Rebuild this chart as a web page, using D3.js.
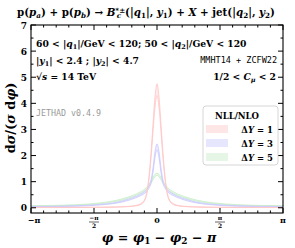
<!DOCTYPE html>
<html>
<head>
<meta charset="utf-8">
<script src="https://cdn.jsdelivr.net/npm/d3@7"></script>
<style>
  body { margin: 0; background: #fff; }
  text { font-family: "DejaVu Serif", "Liberation Serif", serif; }
  .mono { font-family: "DejaVu Sans Mono", "Liberation Mono", monospace; }
</style>
</head>
<body>
<div id="chart"></div>
<script>
// azimuthal distance grid (rad)
var phi = [-3.1416, -2.6, -2.0, -1.4, -1.0, -0.7, -0.5, -0.4, -0.3, -0.25, -0.2, -0.15, -0.1, -0.05,
           0, 0.05, 0.1, 0.15, 0.2, 0.25, 0.3, 0.4, 0.5, 0.7, 1.0, 1.4, 2.0, 2.6, 3.1416];

// Delta Y = 1 band
var dy1Lo = [0.008, 0.008, 0.01, 0.015, 0.025, 0.045, 0.08, 0.13, 0.30, 0.56, 1.08, 1.88, 2.90, 3.85,
             4.30, 3.85, 2.90, 1.88, 1.08, 0.56, 0.30, 0.13, 0.08, 0.045, 0.025, 0.015, 0.01, 0.008, 0.008];
var dy1Hi = [0.015, 0.015, 0.02, 0.025, 0.035, 0.055, 0.10, 0.16, 0.34, 0.63, 1.20, 2.08, 3.20, 4.25,
             4.75, 4.25, 3.20, 2.08, 1.20, 0.63, 0.34, 0.16, 0.10, 0.055, 0.035, 0.025, 0.02, 0.015, 0.015];
// Delta Y = 3 band
var dy3Lo = [0.04, 0.045, 0.06, 0.11, 0.18, 0.29, 0.40, 0.47, 0.56, 0.64, 0.75, 0.93, 1.35, 1.92,
             2.22, 1.92, 1.35, 0.93, 0.75, 0.64, 0.56, 0.47, 0.40, 0.29, 0.18, 0.11, 0.06, 0.045, 0.04];
var dy3Hi = [0.05, 0.055, 0.08, 0.13, 0.21, 0.34, 0.45, 0.53, 0.63, 0.71, 0.84, 1.05, 1.52, 2.15,
             2.45, 2.15, 1.52, 1.05, 0.84, 0.71, 0.63, 0.53, 0.45, 0.34, 0.21, 0.13, 0.08, 0.055, 0.05];
// Delta Y = 5 band
var dy5Lo = [0.06, 0.07, 0.10, 0.16, 0.25, 0.37, 0.49, 0.56, 0.66, 0.73, 0.82, 0.94, 1.07, 1.19,
             1.24, 1.19, 1.07, 0.94, 0.82, 0.73, 0.66, 0.56, 0.49, 0.37, 0.25, 0.16, 0.10, 0.07, 0.06];
var dy5Hi = [0.08, 0.09, 0.12, 0.19, 0.29, 0.42, 0.54, 0.62, 0.72, 0.80, 0.89, 1.02, 1.16, 1.28,
             1.32, 1.28, 1.16, 1.02, 0.89, 0.80, 0.72, 0.62, 0.54, 0.42, 0.29, 0.19, 0.12, 0.09, 0.08];

var seriesNames = ["1", "3", "5"];
var yTicks = [0, 1, 2, 3, 4, 5, 6, 7];

var W = 295, H = 248;
var L = 31, R = 283, T = 25, B = 213;

var svg = d3.select("#chart").append("svg")
    .attr("width", W)
    .attr("height", H);

var x = d3.scaleLinear().domain([-Math.PI, Math.PI]).range([L, R]);
var y = d3.scaleLinear().domain([-0.2, 7]).range([B, T]);

var bands = [
    { lo: dy1Lo, hi: dy1Hi, fill: "#ffe6e6", edge: "#ffc4c4" },
    { lo: dy3Lo, hi: dy3Hi, fill: "#e6e6ff", edge: "#c8c8ff" },
    { lo: dy5Lo, hi: dy5Hi, fill: "#e6f6e6", edge: "#c6ecc6" }
];

var area = d3.area().curve(d3.curveMonotoneX)
    .x(d => x(d[0])).y0(d => y(d[1])).y1(d => y(d[2]));
var line = d3.line().curve(d3.curveMonotoneX)
    .x(d => x(d[0])).y(d => y(d[1]));

var plot = svg.append("g");
bands.slice().reverse().forEach(function(b){
    var pts = phi.map((p, i) => [p, b.lo[i], b.hi[i]]);
    plot.append("path").attr("d", area(pts)).attr("fill", b.fill).attr("opacity", 0.8);
    plot.append("path").attr("d", line(pts.map(d => [d[0], d[1]])))
        .attr("fill", "none").attr("stroke", b.edge).attr("stroke-width", 0.8);
    plot.append("path").attr("d", line(pts.map(d => [d[0], d[2]])))
        .attr("fill", "none").attr("stroke", b.edge).attr("stroke-width", 0.8);
});

// frame + ticks (inside, all sides)
var ax = svg.append("g").attr("stroke", "#000").attr("stroke-width", 1);
ax.append("rect").attr("x", L).attr("y", T).attr("width", R - L).attr("height", B - T)
  .attr("fill", "none").attr("stroke-width", 1.1);

d3.range(-10, 11).forEach(function(k){
    var px = x(k * Math.PI / 10), len = (k % 5 === 0) ? 5 : 2.5;
    ax.append("line").attr("x1", px).attr("x2", px).attr("y1", B).attr("y2", B - len);
    ax.append("line").attr("x1", px).attr("x2", px).attr("y1", T).attr("y2", T + len);
});
d3.range(0, 7.01, 0.5).forEach(function(v){
    var py = y(v), len = (Math.abs(v - Math.round(v)) < 1e-6) ? 5 : 2.5;
    ax.append("line").attr("x1", L).attr("x2", L + len).attr("y1", py).attr("y2", py);
    ax.append("line").attr("x1", R).attr("x2", R - len).attr("y1", py).attr("y2", py);
});

svg.append("g").selectAll("text").data(yTicks).enter().append("text")
    .attr("x", L - 4).attr("y", d => y(d) + 3.5)
    .attr("text-anchor", "end").attr("font-size", 9).attr("font-weight", "bold")
    .text(d => d);

// x tick labels
var xl = svg.append("g").attr("font-size", 8).attr("font-weight", "bold").attr("text-anchor", "middle");
xl.append("text").attr("x", x(-Math.PI) + 3).attr("y", 223).text("\u2212\u03c0");
xl.append("text").attr("x", x(Math.PI)).attr("y", 223).text("\u03c0");
xl.append("text").attr("x", x(0)).attr("y", 223).text("0");
[[-Math.PI / 2, "\u2212\u03c0"], [Math.PI / 2, "\u03c0"]].forEach(function(f){
    xl.append("text").attr("x", x(f[0])).attr("y", 220).attr("font-size", 6).text(f[1]);
    xl.append("line").attr("x1", x(f[0]) - 5).attr("x2", x(f[0]) + 5)
      .attr("y1", 222).attr("y2", 222).attr("stroke", "#000").attr("stroke-width", 0.6);
    xl.append("text").attr("x", x(f[0])).attr("y", 228).attr("font-size", 6).text("2");
});

// rich text helper: parts [text, style, dx] with style "" | "sub" | "sup" | "i"
function rich(g, px, py, parts, size, anchor) {
    var t = g.append("text").attr("x", px).attr("y", py).attr("font-size", size)
        .attr("font-weight", "bold").attr("text-anchor", anchor || "start");
    parts.forEach(function(p){
        var s = t.append("tspan").text(p[0]);
        if (p[1] && p[1].indexOf("i") >= 0) s.attr("font-style", "italic");
        if (p[1] && p[1].indexOf("sub") >= 0) s.attr("baseline-shift", "-25%").attr("font-size", size * 0.7);
        if (p[1] && p[1].indexOf("sup") >= 0) s.attr("baseline-shift", "45%").attr("font-size", size * 0.7);
        if (p[2]) s.attr("dx", p[2]);
    });
    return t;
}

// title
rich(svg, 146, 16, [["p(", ""], ["p", "i"], ["a", "isub"], [") + p(", ""], ["p", "i"], ["b", "isub"],
    [") \u2192 ", ""], ["B", "i"], ["*\u00b1", "sup"], ["c", "isub", -8.5], ["(|", "", 4], ["q", "i"], ["1", "sub"],
    ["|, ", ""], ["y", "i"], ["1", "sub"], [") + ", ""], ["X", "i"], [" + jet(|", ""], ["q", "i"],
    ["2", "sub"], ["|, ", ""], ["y", "i"], ["2", "sub"], [")", ""]], 10.3, "middle");

// annotations
rich(svg, 36, 47, [["60 < |", ""], ["q", "i"], ["1", "sub"], ["|/GeV < 120;  50 < |", ""], ["q", "i"],
    ["2", "sub"], ["|/GeV < 120", ""]], 9.2);
rich(svg, 36, 64, [["|", ""], ["y", "i"], ["1", "sub"], ["| < 2.4 ;  |", ""], ["y", "i"], ["2", "sub"],
    ["| < 4.7", ""]], 9.2);
rich(svg, 36, 80, [["\u221a", ""], ["s", "i"], [" = 14 TeV", ""]], 9.2);
rich(svg, 276, 80, [["1/2 < ", ""], ["C", "i"], ["\u03bc", "isub"], [" < 2", ""]], 9.2, "end");
svg.append("text").attr("class", "mono").attr("x", 277).attr("y", 63).attr("text-anchor", "end")
    .attr("font-size", 8.5).text("MMHT14 + ZCFW22");
svg.append("text").attr("class", "mono").attr("x", 36).attr("y", 116).attr("fill", "#999")
    .attr("font-size", 8.3).text("JETHAD v0.4.9");

// legend
var lg = svg.append("g");
lg.append("rect").attr("x", 203).attr("y", 106).attr("width", 75).attr("height", 59)
  .attr("rx", 3).attr("fill", "#fff").attr("fill-opacity", 0.85)
  .attr("stroke", "#ccc").attr("stroke-width", 0.8);
rich(lg, 237, 119, [["NLL/NLO", ""]], 8.5, "middle");
seriesNames.forEach(function(n, i){
    var cy = 129 + i * 14;
    lg.append("rect").attr("x", 206).attr("y", cy - 4).attr("width", 22).attr("height", 8)
      .attr("fill", bands[i].fill);
    rich(lg, 273, cy + 3.5, [["\u0394", ""], ["Y", "i"], [" = " + n, ""]], 8.5, "end");
});

// axis titles
rich(svg, 0, 0, [["d", ""], ["\u03c3", "i"], ["/(", ""], ["\u03c3", "i"], [" d", ""], ["\u03c6", "i"], [")", ""]], 13, "middle")
    .attr("transform", "translate(15,118) rotate(-90)");
rich(svg, 159, 242, [["\u03c6", "i"], [" = ", ""], ["\u03c6", "i"], ["1", "sub"], [" \u2212 ", ""], ["\u03c6", "i"],
    ["2", "sub"], [" \u2212 ", ""], ["\u03c0", "i"]], 12.7, "middle");
</script>
</body>
</html>
